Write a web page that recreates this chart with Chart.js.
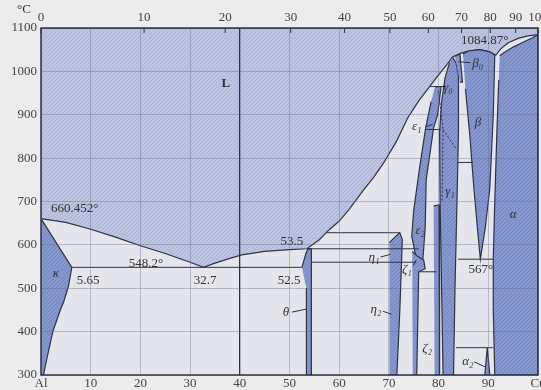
<!DOCTYPE html>
<html>
<head>
<meta charset="utf-8">
<script src="https://cdn.jsdelivr.net/npm/chart.js@4.4.0/dist/chart.umd.min.js"></script>
<style>
  html, body { margin: 0; padding: 0; background: #ececec; }
</style>
</head>
<body>
<canvas id="phaseChart" width="541" height="390"></canvas>
<script>
// Al-Cu phase diagram: x = wt% Cu (bottom), top axis = at% Cu, y = °C
const atPercentLabels = ['0', '10', '20', '30', '40', '50', '60', '70', '80', '90', '100'];
const atPercentPos = [0, 20.74, 37.06, 50.24, 61.09, 70.2, 77.94, 84.61, 90.4, 95.5, 100];

// liquidus pieces [wt% Cu, °C]
const liquidusAl = [[0, 660.45], [5, 652], [10, 636], [15, 618], [20, 598], [25, 580], [30, 560], [32.7, 548.2]];
const liquidusMid = [[32.7, 548.2], [35, 558], [38, 569], [40.4, 577], [45, 585], [50, 589], [53.5, 591]];
const liquidusRight = [[53.5, 591], [56, 612], [58, 635], [60, 655], [62, 682], [64.8, 725], [67, 757], [69, 790],
  [71.5, 838], [73.8, 893], [76, 932], [78, 962], [80, 992], [81.5, 1013], [82.8, 1033]];
const dome = [[82.8, 1033], [84.5, 1042], [86, 1047], [88.3, 1050], [90.3, 1045], [91.5, 1037]];
const alphaLiquidus = [[91.5, 1037], [92.5, 1052], [94, 1066], [96, 1076], [98, 1082], [100, 1084.87]];

// single phase fields
const kappaPhase = [[0, 660.45], [6.2, 548.2], [5.5, 504], [4.6, 470], [3.8, 447], [2.4, 401], [1.2, 339], [0.5, 300], [0, 300]];
const thetaPhase = [[52.5, 548.2], [53.3, 580], [53.7, 591], [54.4, 591], [54.4, 300], [53.5, 300], [53.4, 500]];
const etaPhase = [[70.1, 605], [71.2, 618], [72.2, 628], [72.7, 612], [72.2, 450], [71.6, 300], [70.1, 300]];
const epsPhase = [[79.3, 965], [80.5, 965], [79.8, 900], [79.0, 870], [77.5, 750], [77.3, 640], [76.8, 560], [75.9, 553],
  [75.3, 580], [74.6, 620], [75.0, 680], [76.2, 780], [77.4, 870], [78.5, 930]];
const zetaPhase = [[74.7, 585], [75.6, 575], [77.0, 565], [77.3, 545], [76.0, 538], [75.6, 300], [74.8, 300]];
const deltaPhase = [[79.0, 690], [80.1, 692], [80.2, 300], [79.2, 300]];
const gammaPhase = [[82.8, 1033], [83.5, 1020], [84.0, 990], [84.0, 860], [83.7, 700], [83.3, 500], [83.0, 300],
  [80.9, 300], [80.6, 500], [80.3, 700], [80.2, 860], [80.6, 930], [81.3, 985], [82.2, 1020]];
const beta0Phase = [[83.3, 1035], [84.3, 1040], [84.8, 975], [84.3, 975]];
const betaPhase = [[84.9, 1040], [86, 1047], [88.3, 1050], [90.3, 1045], [91.3, 1038], [91.0, 900], [90.3, 730],
  [89.4, 640], [88.4, 567], [87.8, 640], [87.1, 730], [86.3, 850], [85.4, 960]];
const alphaPhase = [[92.3, 1036], [93.5, 1046], [95, 1056], [97, 1067], [99, 1078], [100, 1084.87], [100, 300],
  [91.3, 300], [91.0, 450], [91.0, 567], [91.3, 700], [91.7, 850], [92.1, 980]];
const alpha2Phase = [[89.3, 300], [89.8, 363], [90.3, 300]];

// isotherms and other lines
const isotherms = [
  [[6.2, 548.2], [52.5, 548.2]],
  [[53.5, 591], [76, 591]],
  [[54.4, 560], [75.5, 560]],
  [[57.4, 628], [72.2, 628]],
  [[76, 538], [79.5, 538]],
  [[78.3, 965], [81.5, 965]],
  [[77.5, 866], [80.4, 866]],
  [[83.9, 790], [86.9, 790]],
  [[83.9, 567], [91.0, 567]],
  [[83.5, 363], [91.0, 363]]
];
const dottedLines = [
  [[80.0, 955], [80.9, 866], [80.7, 700]],
  [[80.9, 866], [83.6, 820]]
];
const pointers = [
  [[50.5, 445], [53.4, 452]],
  [[68.3, 572], [70.3, 578]],
  [[68.8, 447], [70.5, 440]],
  [[77.3, 872], [78.8, 878]],
  [[74.9, 552], [75.5, 565]],
  [[87.2, 330], [89.5, 318]],
  [[86.4, 1020], [84.0, 1022]]
];

// text labels
const textLabels = ['L', '660.452°', 'κ', '5.65', '548.2°', '32.7', '53.5', '52.5', 'θ', 'η₁', 'η₂', 'ζ₁', 'ζ₂',
  'ε₁', 'ε₂', 'γ₀', 'γ₁', 'β₀', 'β', 'α', '567°', 'α₂', '1084.87°'];
const textX = [37.2, 6.8, 3.0, 9.5, 21.1, 33.0, 50.5, 49.9, 49.3, 67.0, 67.4, 73.6, 77.7,
  75.6, 76.3, 81.9, 82.3, 87.9, 87.9, 95.0, 88.5, 85.9, 89.3];
const textY = [972, 683, 533, 517, 556, 517, 607, 517, 443, 570, 450, 542, 362,
  872, 632, 962, 722, 1019, 883, 669, 542, 330, 1070];

const lineColor = '#2f3345';

function hatch(base, stroke) {
  const tile = document.createElement('canvas');
  tile.width = 4;
  tile.height = 4;
  const g = tile.getContext('2d');
  g.fillStyle = base;
  g.fillRect(0, 0, 4, 4);
  g.strokeStyle = stroke;
  g.lineWidth = 1;
  g.beginPath();
  g.moveTo(-1, 5); g.lineTo(5, -1);
  g.moveTo(-1, 1); g.lineTo(1, -1);
  g.moveTo(3, 5); g.lineTo(5, 3);
  g.stroke();
  return g.createPattern(tile, 'repeat');
}

const liquidFill = hatch('#bcc4e2', '#abb3d8');
const solidFill = hatch('#8696ce', '#7686c2');

const toXY = pts => pts.map(([x, y]) => ({ x, y }));
const region = (pts, bg) => ({
  data: toXY(pts), fill: 'shape', backgroundColor: bg,
  borderColor: lineColor, borderWidth: 1.2, pointRadius: 0
});
const line = (pts, dash) => ({
  data: toXY(pts), fill: false, borderColor: lineColor,
  borderWidth: 1, borderDash: dash || [], pointRadius: 0
});

const liquidRegion = [[0, 1100], [100, 1100]].concat(
  [...alphaLiquidus].reverse(), [...dome].reverse(), [...liquidusRight].reverse(),
  [...liquidusMid].reverse(), [...liquidusAl].reverse());

// first dataset is drawn on top
const datasets = [
  ...pointers.map(p => line(p)),
  ...dottedLines.map(p => line(p, [2, 2])),
  ...isotherms.map(p => line(p)),
  region(alpha2Phase, solidFill),
  region(alphaPhase, solidFill),
  region(betaPhase, solidFill),
  region(beta0Phase, solidFill),
  region(gammaPhase, solidFill),
  region(deltaPhase, solidFill),
  region(zetaPhase, solidFill),
  region(epsPhase, solidFill),
  region(etaPhase, solidFill),
  region(thetaPhase, solidFill),
  region(kappaPhase, solidFill),
  region(liquidRegion, liquidFill)
];

const phasePlugin = {
  id: 'phaseText',
  beforeDraw(chart) {
    const { ctx, chartArea: a } = chart;
    ctx.save();
    ctx.fillStyle = '#ececec';
    ctx.fillRect(0, 0, chart.width, chart.height);
    ctx.fillStyle = '#e5e6eb';
    ctx.fillRect(a.left, a.top, a.right - a.left, a.bottom - a.top);
    ctx.restore();
  },
  afterDraw(chart) {
    const { ctx, chartArea: a, scales } = chart;
    ctx.save();
    ctx.strokeStyle = lineColor;
    ctx.lineWidth = 1.5;
    ctx.strokeRect(a.left, a.top, a.right - a.left, a.bottom - a.top);
    // small inner ticks of the at.% axis
    ctx.lineWidth = 1;
    atPercentPos.forEach(v => {
      const px = scales.xTop.getPixelForValue(v);
      ctx.beginPath();
      ctx.moveTo(px, a.top);
      ctx.lineTo(px, a.top + 5);
      ctx.stroke();
    });
    ctx.fillStyle = '#333';
    ctx.textAlign = 'center';
    ctx.textBaseline = 'middle';
    textLabels.forEach((t, i) => {
      const greek = /[α-ω]/.test(t);
      ctx.font = t === 'L' ? 'bold 13px "Liberation Serif"' : (greek ? 'italic 13px "Liberation Serif"' : '13px "Liberation Serif"');
      ctx.fillText(t, scales.x.getPixelForValue(textX[i]), scales.y.getPixelForValue(textY[i]));
    });
    ctx.font = '13px "Liberation Serif"';
    ctx.fillText('°C', 24, 10);
    ctx.restore();
  }
};

const tickFont = { family: 'Liberation Serif', size: 13 };
const gridColor = 'rgba(95, 100, 125, 0.35)';
const noSidePadding = s => { s.paddingLeft = 0; s.paddingRight = 0; };

new Chart(document.getElementById('phaseChart').getContext('2d'), {
  type: 'line',
  data: { datasets },
  options: {
    responsive: false,
    animation: false,
    events: [],
    layout: { padding: { left: 0, right: 3, top: 0, bottom: 0 } },
    plugins: { legend: { display: false }, tooltip: { enabled: false } },
    scales: {
      x: {
        type: 'linear', position: 'bottom', min: 0, max: 100,
        afterFit: s => { s.height = 15; noSidePadding(s); },
        ticks: {
          stepSize: 10, padding: 1, color: '#444', font: tickFont, maxRotation: 0, autoSkip: false,
          callback: v => (v === 0 ? 'Al' : v === 100 ? 'Cu' : String(v))
        },
        grid: {
          z: 1, drawTicks: false,
          color: c => (c.tick && c.tick.value === 40 ? lineColor : gridColor),
          lineWidth: c => (c.tick && c.tick.value === 40 ? 1.3 : 1)
        },
        border: { display: false }
      },
      xTop: {
        type: 'linear', position: 'top', min: 0, max: 100,
        afterFit: s => { s.height = 28; noSidePadding(s); },
        afterBuildTicks: s => { s.ticks = atPercentPos.map(v => ({ value: v })); },
        ticks: {
          padding: 3, color: '#444', font: tickFont, maxRotation: 0, autoSkip: false,
          callback: (v, i) => atPercentLabels[i]
        },
        grid: { display: false, drawTicks: false },
        border: { display: false }
      },
      y: {
        min: 300, max: 1100,
        afterFit: s => { s.width = 41; s.paddingTop = 0; s.paddingBottom = 0; },
        ticks: { stepSize: 100, padding: 4, color: '#444', font: tickFont, callback: v => String(v) },
        grid: { z: 1, drawTicks: false, color: gridColor },
        border: { display: false }
      }
    }
  },
  plugins: [phasePlugin]
});
</script>
</body>
</html>
